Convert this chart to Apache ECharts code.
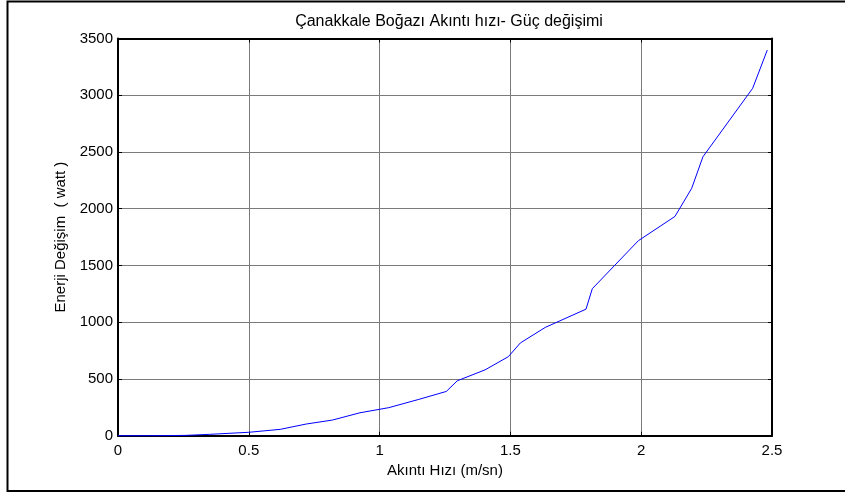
<!DOCTYPE html>
<html>
<head>
<meta charset="utf-8">
<script src="https://cdn.jsdelivr.net/npm/echarts@6/dist/echarts.min.js"></script>
<style>
html,body{margin:0;padding:0;background:#fff;}
#c{width:845px;height:494px;}
</style>
</head>
<body>
<div id="c"></div>
<script>
const titleText = "Çanakkale Boğazı Akıntı hızı- Güç değişimi";
const xLabel = "Akıntı Hızı (m/sn)";
const yLabel = "Enerji Değişim  ( watt )";
const speed = [0, 0.1, 0.2, 0.26, 0.35, 0.5, 0.62, 0.72, 0.82, 0.925, 1.035, 1.15, 1.255, 1.297, 1.403, 1.492, 1.538, 1.633, 1.789, 1.813, 1.989, 2.129, 2.193, 2.236, 2.426, 2.482];
const power = [0, 0, 1, 3, 12, 30, 56, 103, 138, 202, 247, 320, 390, 484, 580, 696, 817, 954, 1115, 1295, 1718, 1932, 2180, 2458, 3061, 3398];
const xTicks = [0, 0.5, 1, 1.5, 2, 2.5];
const yTicks = [0, 500, 1000, 1500, 2000, 2500, 3000, 3500];

const chart = echarts.init(document.getElementById('c'), null, {renderer: 'canvas'});
const font = 'Liberation Sans, Arial, sans-serif';
const gridCfg = {left: 118, right: 73, top: 38.5, bottom: 58.3};
const hiddenAxisCommon = {
  axisLine: {show: true, onZero: false, lineStyle: {color: '#000', width: 2}},
  axisTick: {show: true, inside: true, length: 4, lineStyle: {color: '#000', width: 1}},
  axisLabel: {show: false},
  splitLine: {show: false}
};
chart.setOption({
  animation: false,
  backgroundColor: '#fff',
  title: {
    text: titleText, left: 444, top: 9, textAlign: 'center',
    textStyle: {fontFamily: font, fontSize: 16, fontWeight: 'normal', color: '#000'}
  },
  grid: gridCfg,
  xAxis: [{
    type: 'value', min: 0, max: 2.5, interval: 0.5, position: 'bottom',
    name: xLabel, nameLocation: 'middle', nameGap: 26,
    nameTextStyle: {fontFamily: font, fontSize: 15, color: '#000'},
    axisLine: {show: true, onZero: false, lineStyle: {color: '#000', width: 2}},
    axisTick: {show: true, inside: true, length: 4, lineStyle: {color: '#000', width: 1}},
    axisLabel: {fontFamily: font, fontSize: 15, color: '#000', margin: 8,
      formatter: v => xTicks.includes(v) ? String(v) : ''},
    splitLine: {show: true, lineStyle: {color: '#7a7a7a', width: 1}}
  }, Object.assign({type: 'value', min: 0, max: 2.5, interval: 0.5, position: 'top'}, hiddenAxisCommon)],
  yAxis: [{
    type: 'value', min: 0, max: 3500, interval: 500, position: 'left',
    name: yLabel, nameLocation: 'middle', nameGap: 45, nameRotate: 90,
    nameTextStyle: {fontFamily: font, fontSize: 15, color: '#000'},
    axisLine: {show: true, onZero: false, lineStyle: {color: '#000', width: 2}},
    axisTick: {show: true, inside: true, length: 4, lineStyle: {color: '#000', width: 1}},
    axisLabel: {fontFamily: font, fontSize: 15, color: '#000', margin: 5,
      formatter: v => yTicks.includes(v) ? String(v) : ''},
    splitLine: {show: true, lineStyle: {color: '#7a7a7a', width: 1}}
  }, Object.assign({type: 'value', min: 0, max: 3500, interval: 500, position: 'right'}, hiddenAxisCommon)],
  graphic: [{
    type: 'rect', silent: true, z: 100,
    shape: {x: 7.5, y: 1.5, width: 900, height: 489.5},
    style: {fill: 'none', stroke: '#000', lineWidth: 2}
  }],
  series: [{
    type: 'line', xAxisIndex: 0, yAxisIndex: 0,
    data: speed.map((s, i) => [s, power[i]]),
    showSymbol: false, symbol: 'none',
    lineStyle: {color: '#0000ff', width: 1},
    clip: false, z: 5
  }]
});
</script>
</body>
</html>
